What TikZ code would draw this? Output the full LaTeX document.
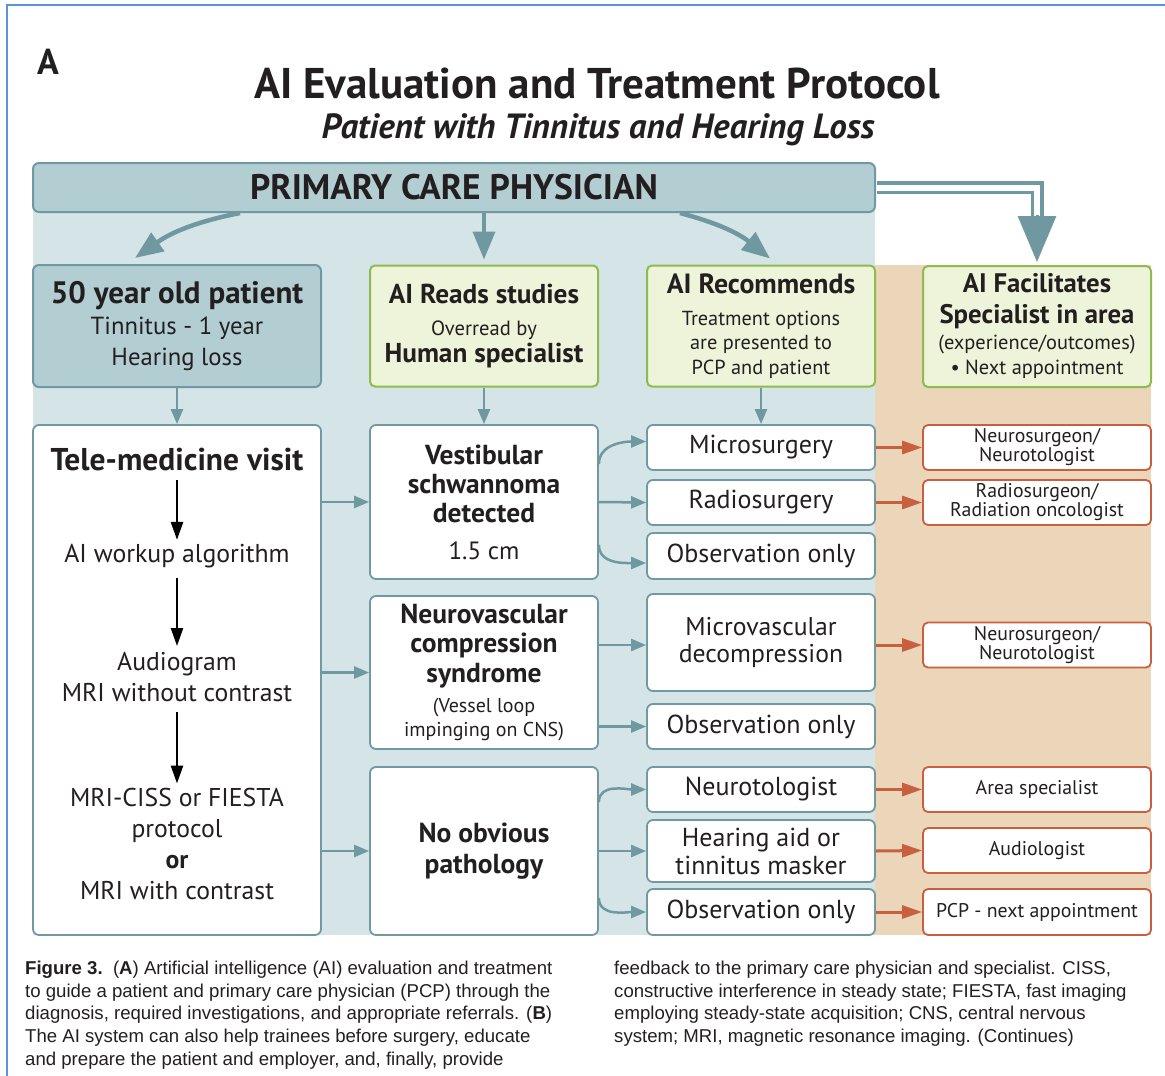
\documentclass[tikz,border=0pt]{standalone}
\usepackage{fontspec}
\setmainfont{PT Sans}
\newfontfamily\capfont{Liberation Sans}
\usetikzlibrary{arrows.meta,calc}
\definecolor{bluefill}{HTML}{B3CED3}
\definecolor{bgblue}{HTML}{D5E4E6}
\definecolor{bord}{HTML}{6F9AA3}
\definecolor{arrc}{HTML}{6F98A0}
\definecolor{grnfill}{HTML}{EEF4D9}
\definecolor{grn}{HTML}{8DBB50}
\definecolor{bgtan}{HTML}{EBD6B9}
\definecolor{redc}{HTML}{C8603F}
\definecolor{framec}{HTML}{5B95D8}
\definecolor{ink}{HTML}{231F20}
\newcommand\myfs[2]{\fontsize{#1}{#2}\selectfont}
\tikzset{
  every node/.style={text=ink, inner sep=0pt},
  bluebox/.style={draw=bord, fill=bluefill, line width=2pt, rounded corners=6pt, align=center},
  greenbox/.style={draw=grn, fill=grnfill, line width=2pt, rounded corners=5pt, align=center, minimum width=228pt, minimum height=121pt},
  whitebox/.style={draw=bord, fill=white, line width=1.8pt, rounded corners=6pt, align=center, minimum width=228pt},
  redbox/.style={draw=redc, fill=white, line width=1.8pt, rounded corners=5pt, align=center, minimum width=228pt, font=\myfs{19.8}{19}},
  optbox/.style={whitebox, font=\myfs{26}{28}},
  arr/.style={draw=arrc, line width=2.5pt, -{Triangle[length=15pt,width=12pt]}},
  bigarr/.style={draw=arrc, line width=4.5pt, -{Triangle[length=28pt,width=22pt]}},
  redarr/.style={draw=redc, line width=3pt, -{Triangle[length=20pt,width=13pt]}},
  blkarr/.style={draw=black, line width=2.5pt, -{Triangle[length=18pt,width=12pt]}},
}
\begin{document}
\begin{tikzpicture}[x=1pt,y=1pt]
\useasboundingbox (0,0) rectangle (1165,-1076);
% frame
\draw[framec, line width=2pt] (1165,-5) -- (7,-5) -- (7,-1076);
% backgrounds
\fill[bgblue] (33,-200) rectangle (875,-935);
\fill[bgtan] (875,-265) rectangle (1151,-935);

% titles
\node (lblA) at (48,-62) {\myfs{36}{40}\bfseries A};
\node (title) at (597,-84) {\myfs{43}{48}\bfseries AI Evaluation and Treatment Protocol};
\node (subtitle) at (598,-130) {\myfs{35}{40}\bfseries\itshape Patient with Tinnitus and Hearing Loss};

% PCP
\node[bluebox, minimum width=842pt, minimum height=49pt, font=\myfs{35.5}{40}\bfseries] (pcp) at (454,-187.5) {PRIMARY CARE PHYSICIAN};

% row 2
\node[bluebox, minimum width=288pt, minimum height=122pt, font=\myfs{24.7}{31}] (pat) at (177,-326)
  {{\myfs{31}{33}\bfseries 50 year old patient}\\Tinnitus - 1 year\\Hearing loss};
\node[greenbox, font=\myfs{27.3}{29}] (reads) at (484,-326)
  {{\bfseries AI Reads studies}\\[3pt]{\myfs{20.6}{24}Overread by}\\[-2pt]{\bfseries Human specialist}};
\node[greenbox, font=\myfs{20.3}{24.5}] (recs) at (761,-326)
  {{\myfs{27.8}{28}\bfseries AI Recommends}\\[7pt]Treatment options\\are presented to\\PCP and patient};
\node[greenbox, font=\myfs{26.8}{31}] (fac) at (1037,-326.5)
  {{\bfseries AI Facilitates}\\{\bfseries Specialist in area}\\[-5pt]{\myfs{20.4}{24}(experience/outcomes)}\\[-6pt]{\myfs{20.4}{24}\textbullet\ Next appointment}};

% PCP arrows
\draw[bigarr] ([xshift=-214pt]pcp.south) to[bend right=12] ([shift={(-42pt,6pt)}]pat.north);
\draw[bigarr, line width=4pt] (reads.north |- pcp.south) -- ([yshift=5pt]reads.north);
\draw[bigarr] ([xshift=226pt]pcp.south) to[bend left=12] ([shift={(9pt,6pt)}]recs.north);
\draw[draw=arrc, line width=3.5pt, double=white, double distance=6pt, shorten >=43pt, shorten <=1pt] (pcp.east) -| (fac.north);
\draw[draw=arrc, line width=3pt, -{Triangle[length=46pt,width=38pt]}] ([yshift=50pt]fac.north) -- ([yshift=3pt]fac.north);

% Tele-medicine box
\node[whitebox, minimum width=288pt, minimum height=510pt] (tele) at (177,-680) {};
\node[font=\myfs{31.5}{31}\bfseries] (tm1) at (177,-460) {Tele-medicine visit};
\node[font=\myfs{25.8}{31}] (tm2) at (177,-556) {AI workup algorithm};
\node[font=\myfs{25.7}{31}, align=center] (tm3) at (177,-677) {Audiogram\\MRI without contrast};
\node[font=\myfs{25.7}{31.3}, align=center] (tm4) at (177,-844) {MRI-CISS or FIESTA\\protocol\\\textbf{or}\\MRI with contrast};
\draw[blkarr] ([yshift=-8pt]tm1.south) -- ([yshift=4pt]tm2.north);
\draw[blkarr] ([yshift=-10pt]tm2.south) -- ([yshift=6pt]tm3.north);
\draw[blkarr] ([yshift=-10pt]tm3.south) -- ([yshift=4pt]tm4.north);

% middle column
\node[whitebox, minimum height=154pt, font=\myfs{27.5}{29}\bfseries] (vs) at (484,-502)
  {Vestibular\\schwannoma\\detected\\[8pt]{\mdseries\myfs{25}{29}1.5 cm}};
\node[whitebox, minimum height=153pt, font=\myfs{27.5}{29.5}\bfseries] (nv) at (484,-672.5)
  {Neurovascular\\compression\\syndrome\\[1pt]{\mdseries\myfs{20}{24}(Vessel loop}\\[-5.5pt]{\mdseries\myfs{20}{24}impinging on CNS)}};
\node[whitebox, minimum height=168pt, font=\myfs{27.5}{31}\bfseries] (nop) at (484,-851)
  {No obvious\\pathology};

% options column
\node[optbox, minimum height=45pt] (micro) at (761,-447.5) {Microsurgery};
\node[optbox, minimum height=45pt] (radio) at (761,-502.5) {Radiosurgery};
\node[optbox, minimum height=46pt] (obs1) at (761,-556) {Observation only};
\node[optbox, minimum height=97pt, font=\myfs{25.7}{27}] (mvd) at (761,-642.5) {Microvascular\\decompression};
\node[optbox, minimum height=45pt] (obs2) at (761,-726.5) {Observation only};
\node[optbox, minimum height=45pt] (neuro) at (761,-789.5) {Neurotologist};
\node[optbox, minimum height=62pt] (haid) at (761,-851) {Hearing aid or\\tinnitus masker};
\node[optbox, minimum height=46pt] (obs3) at (761,-912) {Observation only};

% referral column
\node[redbox, minimum height=45pt] (r1) at (1037,-447.5) {Neurosurgeon/\\Neurotologist};
\node[redbox, minimum height=45pt] (r2) at (1037,-502.5) {Radiosurgeon/\\Radiation oncologist};
\node[redbox, minimum height=45pt] (r3) at (1037,-645) {Neurosurgeon/\\Neurotologist};
\node[redbox, minimum height=45pt] (r4) at (1037,-789.5) {Area specialist};
\node[redbox, minimum height=45pt] (r5) at (1037,-850.5) {Audiologist};
\node[redbox, minimum height=46pt] (r6) at (1037,-912) {PCP - next appointment};

% vertical small arrows
\draw[arr] (pat.south) -- (tele.north);
\draw[arr] (reads.south) -- (vs.north);
\draw[arr] (recs.south) -- (micro.north);

% tele -> middle
\draw[arr] (tele.east |- vs.west) -- (vs.west);
\draw[arr] (tele.east |- nv.west) -- (nv.west);
\draw[arr] (tele.east |- nop.west) -- (nop.west);

% middle -> options
\draw[arr] ([yshift=38pt]vs.east) to[out=90,in=180] ([yshift=6pt]micro.west);
\draw[arr] (vs.east) -- (radio.west);
\draw[arr] ([yshift=-43pt]vs.east) to[out=-90,in=180] ([yshift=-7pt]obs1.west);
\draw[arr] (nv.east |- r3.west) -- (mvd.west |- r3.west);
\draw[arr] (nv.east |- obs2.west) -- (obs2.west);
\draw[arr] ([yshift=49pt]nop.east) to[out=90,in=180] (neuro.west);
\draw[arr] (nop.east) -- (haid.west);
\draw[arr] ([yshift=-47pt]nop.east) to[out=-90,in=180] (obs3.west);

% options -> referrals
\draw[redarr] (micro.east) -- (r1.west);
\draw[redarr] (radio.east) -- (r2.west);
\draw[redarr] (mvd.east |- r3.west) -- (r3.west);
\draw[redarr] (neuro.east) -- (r4.west);
\draw[redarr] (haid.east) -- (r5.west);
\draw[redarr] (obs3.east) -- (r6.west);

% caption
\node[anchor=north west, align=left, font=\capfont\myfs{18.6}{22.6}] (capL) at (25,-961)
  {\textbf{Figure 3.}\ \ (\textbf{A}) Artificial intelligence (AI) evaluation and treatment\\
   to guide a patient and primary care physician (PCP) through the\\
   diagnosis, required investigations, and appropriate referrals. (\textbf{B})\\
   The AI system can also help trainees before surgery, educate\\
   and prepare the patient and employer, and, finally, provide};
\node[anchor=north west, align=left, font=\capfont\myfs{18.6}{22.6}] (capR) at (614,-961)
  {feedback to the primary care physician and specialist. CISS,\\
   constructive interference in steady state; FIESTA, fast imaging\\
   employing steady-state acquisition; CNS, central nervous\\
   system; MRI, magnetic resonance imaging. (Continues)};
\end{tikzpicture}
\end{document}
